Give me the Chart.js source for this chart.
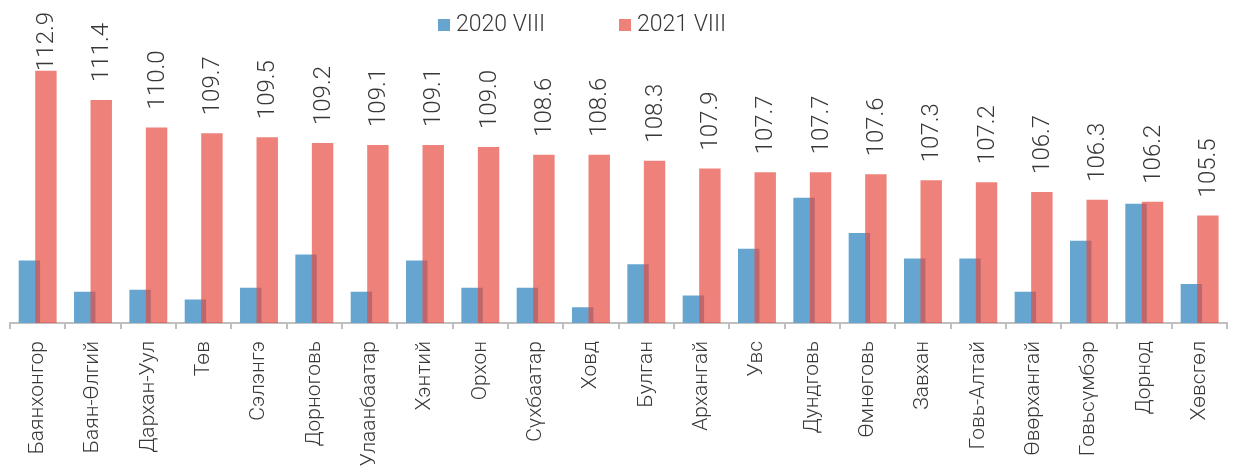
<!DOCTYPE html>
<html>
<head>
<meta charset="utf-8">
<script src="https://cdn.jsdelivr.net/npm/chart.js@4.4.0/dist/chart.umd.min.js"></script>
<style>
  html, body { margin: 0; padding: 0; background: #fff; overflow: hidden; }
  #wrap { position: relative; width: 1237px; height: 468px; }
</style>
</head>
<body>
<div id="wrap"><canvas id="chart"></canvas></div>
<script>
'use strict';

// ── Data ─────────────────────────────────────────────────────────────────────

const regions = [
  'Баянхонгор', 'Баян-Өлгий', 'Дархан-Уул', 'Төв', 'Сэлэнгэ', 'Дорноговь',
  'Улаанбаатар', 'Хэнтий', 'Орхон', 'Сүхбаатар', 'Ховд', 'Булган', 'Архангай',
  'Увс', 'Дундговь', 'Өмнөговь', 'Завхан', 'Говь-Алтай', 'Өвөрхангай',
  'Говьсүмбэр', 'Дорнод', 'Хөвсгөл'
];

const values2020 = [
  103.2, 101.6, 101.7, 101.2, 101.8, 103.5, 101.6, 103.2, 101.8, 101.8, 100.8,
  103.0, 101.4, 103.8, 106.4, 104.6, 103.3, 103.3, 101.6, 104.2, 106.1, 102.0
];

const values2021 = [
  112.9, 111.4, 110.0, 109.7, 109.5, 109.2, 109.1, 109.1, 109.0, 108.6, 108.6,
  108.3, 107.9, 107.7, 107.7, 107.6, 107.3, 107.2, 106.7, 106.3, 106.2, 105.5
];

const seriesNames = ['2020 VIII', '2021 VIII'];

const BLUE = '#66a5cf';
const RED = 'rgba(230,74,62,0.69)';
const RED_SOLID = '#ee827a';
const TEXT = '#383838';
const FONT = 'Roboto';

// ── Plugins ──────────────────────────────────────────────────────────────────

// red bars go on top of the blue ones (Chart.js draws the first dataset last)
const redOnTop = {
  id: 'redOnTop',
  beforeDatasetDraw(chart, args) {
    if (args.index === 1) return false;
  },
  afterDatasetsDraw(chart) {
    const ctx = chart.ctx;
    const area = chart.chartArea;
    const meta = chart.getDatasetMeta(1);

    ctx.save();
    ctx.beginPath();
    ctx.rect(area.left, area.top, area.right - area.left, area.bottom - area.top);
    ctx.clip();
    meta.controller.draw();
    ctx.restore();

    // value labels above the 2021 bars
    ctx.save();
    ctx.font = `300 24px ${FONT}`;
    ctx.fillStyle = TEXT;
    ctx.textAlign = 'left';
    ctx.textBaseline = 'middle';
    meta.data.forEach((bar, i) => {
      const txt = values2021[i].toFixed(1);
      const w = ctx.measureText(txt).width;
      let y = bar.y - 18;
      if (y - w < 12) y = 12 + w;
      ctx.save();
      ctx.translate(bar.x + 1, y);
      ctx.rotate(-Math.PI / 2);
      ctx.fillText(txt, 0, 0);
      ctx.restore();
    });
    ctx.restore();
  }
};

const legendTop = {
  id: 'legendTop',
  afterDraw(chart) {
    const ctx = chart.ctx;
    const items = [
      { text: seriesNames[0], color: BLUE, x: 438 },
      { text: seriesNames[1], color: RED_SOLID, x: 619 }
    ];
    ctx.save();
    ctx.font = `300 23px ${FONT}`;
    ctx.textBaseline = 'middle';
    ctx.textAlign = 'left';
    items.forEach(it => {
      ctx.fillStyle = it.color;
      ctx.fillRect(it.x, 19, 12, 12);
      ctx.fillStyle = TEXT;
      ctx.fillText(it.text, it.x + 18, 25);
    });
    ctx.restore();
  }
};

// ── Chart ────────────────────────────────────────────────────────────────────

new Chart(document.getElementById('chart'), {
  type: 'bar',
  data: {
    labels: regions,
    datasets: [
      {
        label: seriesNames[0],
        data: values2020,
        backgroundColor: BLUE,
        categoryPercentage: 0.596,
        barPercentage: 1.3
      },
      {
        label: seriesNames[1],
        data: values2021,
        backgroundColor: RED,
        categoryPercentage: 0.596,
        barPercentage: 1.3
      }
    ]
  },
  options: {
    responsive: true,
    maintainAspectRatio: false,
    animation: false,
    layout: { padding: { top: 10, left: 10, right: 8, bottom: 0 } },
    plugins: {
      legend: { display: false },
      tooltip: { enabled: false }
    },
    scales: {
      x: {
        offset: true,
        grid: {
          offset: true,
          drawOnChartArea: false,
          drawTicks: true,
          tickLength: 6,
          color: '#c0c0c0',
          lineWidth: 2
        },
        border: { display: true, color: '#c0c0c0', width: 2 },
        ticks: {
          autoSkip: false,
          minRotation: 90,
          maxRotation: 90,
          padding: 12,
          color: TEXT,
          font: { family: FONT, size: 21, weight: 300 }
        },
        afterFit(scale) { scale.height = 145; }
      },
      y: {
        display: false,
        min: 100,
        max: 116
      }
    }
  },
  plugins: [redOnTop, legendTop]
});
</script>
</body>
</html>
